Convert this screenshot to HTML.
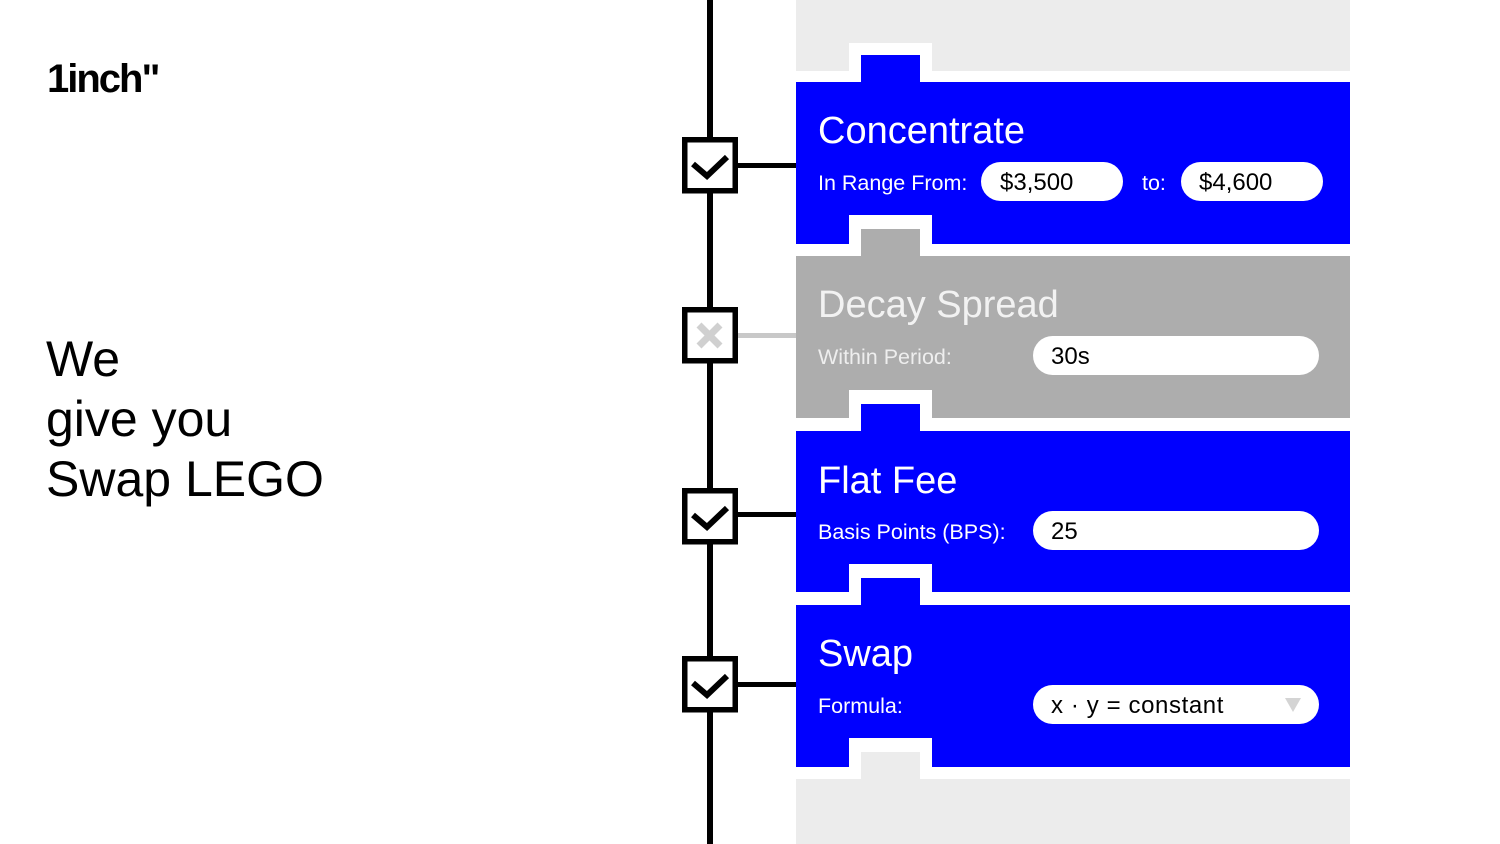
<!DOCTYPE html>
<html><head><meta charset="utf-8"><style>
html,body{margin:0;padding:0;background:#fff;}
svg{display:block;}
text{font-family:"Liberation Sans",Arial,sans-serif;}
</style></head><body>
<svg width="1500" height="844" viewBox="0 0 1500 844" xmlns="http://www.w3.org/2000/svg">
<rect width="1500" height="844" fill="#fff"/>
<!-- left text -->
<text x="47" y="92" font-size="40" font-weight="bold" letter-spacing="-2" fill="#000">1inch"</text>
<text x="46" y="376" font-size="50" fill="#000">We</text>
<text x="46" y="436" font-size="50" fill="#000">give you</text>
<text x="46" y="496" font-size="50" fill="#000">Swap LEGO</text>

<!-- timeline -->
<rect x="707" y="0" width="6" height="844" fill="#000"/>

<!-- blocks -->
<rect x="796" y="0" width="554" height="71" fill="#ececec"/>
<rect x="849" y="43" width="83" height="28" fill="#fff"/>
<rect x="861" y="55" width="59" height="27" fill="#0000ff"/>
<rect x="796" y="82" width="554" height="162" fill="#0000ff"/>
<rect x="849" y="215" width="83" height="29" fill="#fff"/>
<rect x="861" y="229" width="59" height="27" fill="#adadad"/>
<rect x="796" y="256" width="554" height="162" fill="#adadad"/>
<rect x="849" y="390" width="83" height="28" fill="#fff"/>
<rect x="861" y="404" width="59" height="27" fill="#0000ff"/>
<rect x="796" y="431" width="554" height="161" fill="#0000ff"/>
<rect x="849" y="564" width="83" height="28" fill="#fff"/>
<rect x="861" y="578" width="59" height="27" fill="#0000ff"/>
<rect x="796" y="605" width="554" height="162" fill="#0000ff"/>
<rect x="849" y="738" width="83" height="29" fill="#fff"/>
<rect x="861" y="752" width="59" height="27" fill="#ececec"/>
<rect x="796" y="779" width="554" height="65" fill="#ececec"/>

<!-- block1 content -->
<text x="818" y="143" font-size="38" fill="#fff">Concentrate</text>
<text x="818" y="190" font-size="21.5" fill="#fff">In Range From:</text>
<rect x="981" y="162" width="142" height="39" rx="19.5" fill="#fff"/>
<text x="1000" y="190" font-size="24" fill="#000">$3,500</text>
<text x="1142" y="190" font-size="21.5" fill="#fff">to:</text>
<rect x="1181" y="162" width="142" height="39" rx="19.5" fill="#fff"/>
<text x="1199" y="190" font-size="24" fill="#000">$4,600</text>

<!-- block2 content -->
<text x="818" y="317" font-size="38" fill="#f2f2f2">Decay Spread</text>
<text x="818" y="364" font-size="21.5" fill="#eeeeee">Within Period:</text>
<rect x="1033" y="336" width="286" height="39" rx="19.5" fill="#fff"/>
<text x="1051" y="364" font-size="24" fill="#000">30s</text>

<!-- block3 content -->
<text x="818" y="493" font-size="38" fill="#fff">Flat Fee</text>
<text x="818" y="539" font-size="21.5" fill="#fff">Basis Points (BPS):</text>
<rect x="1033" y="511" width="286" height="39" rx="19.5" fill="#fff"/>
<text x="1051" y="539" font-size="24" fill="#000">25</text>

<!-- block4 content -->
<text x="818" y="666" font-size="38" fill="#fff">Swap</text>
<text x="818" y="713" font-size="21.5" fill="#fff">Formula:</text>
<rect x="1033" y="685" width="286" height="39" rx="19.5" fill="#fff"/>
<text x="1051" y="713" font-size="24" letter-spacing="0.6" fill="#000">x · y = constant</text>
<polygon points="1285,698 1301,698 1293,712" fill="#d4d4d4"/>

<!-- connectors -->
<rect x="738" y="163" width="58" height="5" fill="#000"/>
<rect x="738" y="333" width="58" height="5" fill="#c8c8c8"/>
<rect x="738" y="512" width="58" height="5" fill="#000"/>
<rect x="738" y="682" width="58" height="5" fill="#000"/>

<!-- checkboxes -->
<g fill="#fff" stroke="#000" stroke-width="5.5">
<rect x="684.75" y="139.75" width="50.5" height="51"/>
<rect x="684.75" y="309.75" width="50.5" height="51"/>
<rect x="684.75" y="490.75" width="50.5" height="51"/>
<rect x="684.75" y="658.75" width="50.5" height="51"/>
</g>
<!-- checkmarks -->
<g fill="none" stroke="#000" stroke-width="6" stroke-linejoin="miter" stroke-linecap="butt">
<polyline points="693,164 707,176 727,157"/>
<polyline points="693,515 707,527 727,508"/>
<polyline points="693,683 707,695 727,676"/>
</g>
<!-- x mark -->
<g stroke="#d0d0d0" stroke-width="7" stroke-linecap="butt">
<line x1="699" y1="325" x2="720" y2="346"/>
<line x1="720" y1="325" x2="699" y2="346"/>
</g>
</svg>
</body></html>
